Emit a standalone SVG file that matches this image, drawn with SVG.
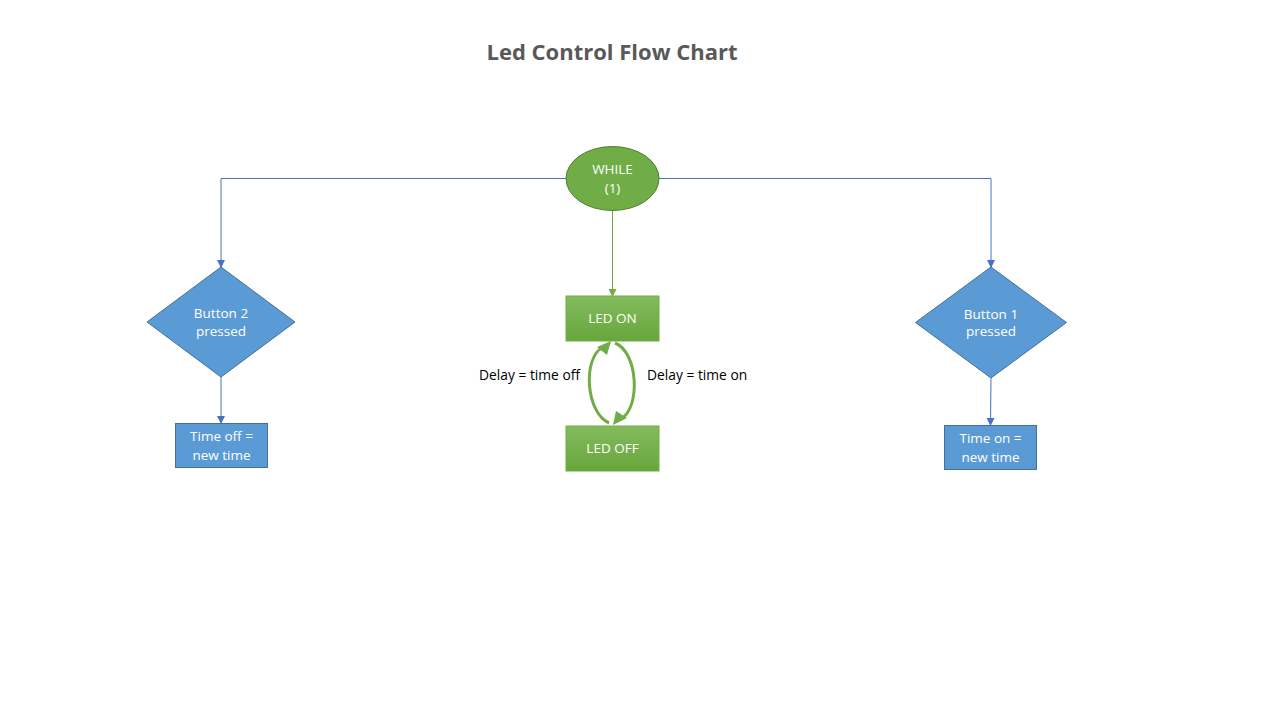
<svg xmlns="http://www.w3.org/2000/svg" width="1276" height="714" viewBox="0 0 1276 714">
<style>
.t{font-family:"Open Sans","Liberation Sans",sans-serif;font-size:13.5px;fill:#ffffff;text-anchor:middle}
.lbl{font-family:"Open Sans","Liberation Sans",sans-serif;font-size:13.8px;fill:#000000}
.blue{fill:#5B9BD5;stroke:#41719C;stroke-width:1}
.cb{fill:none;stroke:#4472C4;stroke-width:1}
.cg{fill:none;stroke:#70AD47;stroke-width:1}
.arc{fill:none;stroke:#70AD47;stroke-width:3}
</style>
<defs>
<marker id="ab" markerWidth="8" markerHeight="8" refX="7" refY="4" orient="auto" markerUnits="userSpaceOnUse"><path d="M0,0 L8,4 L0,8 z" fill="#4472C4"/></marker>
<marker id="ag" markerWidth="8" markerHeight="8" refX="7" refY="4" orient="auto" markerUnits="userSpaceOnUse"><path d="M0,0 L8,4 L0,8 z" fill="#70AD47"/></marker>
<linearGradient id="gg" x1="0" y1="0" x2="0" y2="1"><stop offset="0" stop-color="#84BC5E"/><stop offset="1" stop-color="#67A63B"/></linearGradient>
</defs>
<rect width="1276" height="714" fill="#ffffff"/>
<text x="612" y="60" font-family="'Open Sans','Liberation Sans',sans-serif" font-size="22" font-weight="bold" fill="#595959" text-anchor="middle">Led Control Flow Chart</text>
<g id="connectors">
<polyline class="cb" points="566,178.5 221,178.5 221,267" marker-end="url(#ab)"/>
<polyline class="cb" points="659,178.5 991,178.5 991,267" marker-end="url(#ab)"/>
<line class="cg" x1="612.5" y1="210" x2="612.5" y2="296" marker-end="url(#ag)"/>
<line class="cb" x1="221" y1="377" x2="221" y2="423" marker-end="url(#ab)"/>
<line class="cb" x1="991" y1="378" x2="990.5" y2="425" marker-end="url(#ab)"/>
<path class="arc" d="M609,423 C586,413 582,358 603,347"/>
<path d="M597,347 L611,341 L607,355 Z" fill="#70AD47"/>
<path class="arc" d="M615,343 C638,352 641,407 621,419"/>
<path d="M627,418 L613,425 L616,411 Z" fill="#70AD47"/>
<text class="lbl" x="479" y="380">Delay = time off</text>
<text class="lbl" x="647" y="380">Delay = time on</text>
</g>
<g id="while">
<ellipse cx="612.5" cy="178.5" rx="46.5" ry="32" fill="#70AD47" stroke="#507E32" stroke-width="1"/>
<text class="t" x="612.5" y="174">WHILE</text>
<text class="t" x="612.5" y="193">(1)</text>
</g>
<g id="led-on">
<rect x="566" y="296" width="93" height="45" fill="url(#gg)" stroke="#70AD47" stroke-width="1"/>
<text class="t" x="612.5" y="323">LED ON</text>
</g>
<g id="led-off">
<rect x="566" y="426" width="93" height="45" fill="url(#gg)" stroke="#70AD47" stroke-width="1"/>
<text class="t" x="612.5" y="453">LED OFF</text>
</g>
<g id="button2">
<polygon class="blue" points="221,267 295,322 221,377 147,322"/>
<text class="t" x="221" y="318" font-size="12">Button 2</text>
<text class="t" x="221" y="336" font-size="12">pressed</text>
</g>
<g id="button1">
<polygon class="blue" points="991,267 1066.5,322.5 991,378 915.5,322.5"/>
<text class="t" x="991" y="319" font-size="12">Button 1</text>
<text class="t" x="991" y="336" font-size="12">pressed</text>
</g>
<g id="time-off">
<rect class="blue" x="175.5" y="423.5" width="92" height="44"/>
<text class="t" x="221.5" y="441">Time off =</text>
<text class="t" x="221.5" y="460">new time</text>
</g>
<g id="time-on">
<rect class="blue" x="944.5" y="425.5" width="92" height="44"/>
<text class="t" x="990.5" y="443">Time on =</text>
<text class="t" x="990.5" y="462">new time</text>
</g>
</svg>
